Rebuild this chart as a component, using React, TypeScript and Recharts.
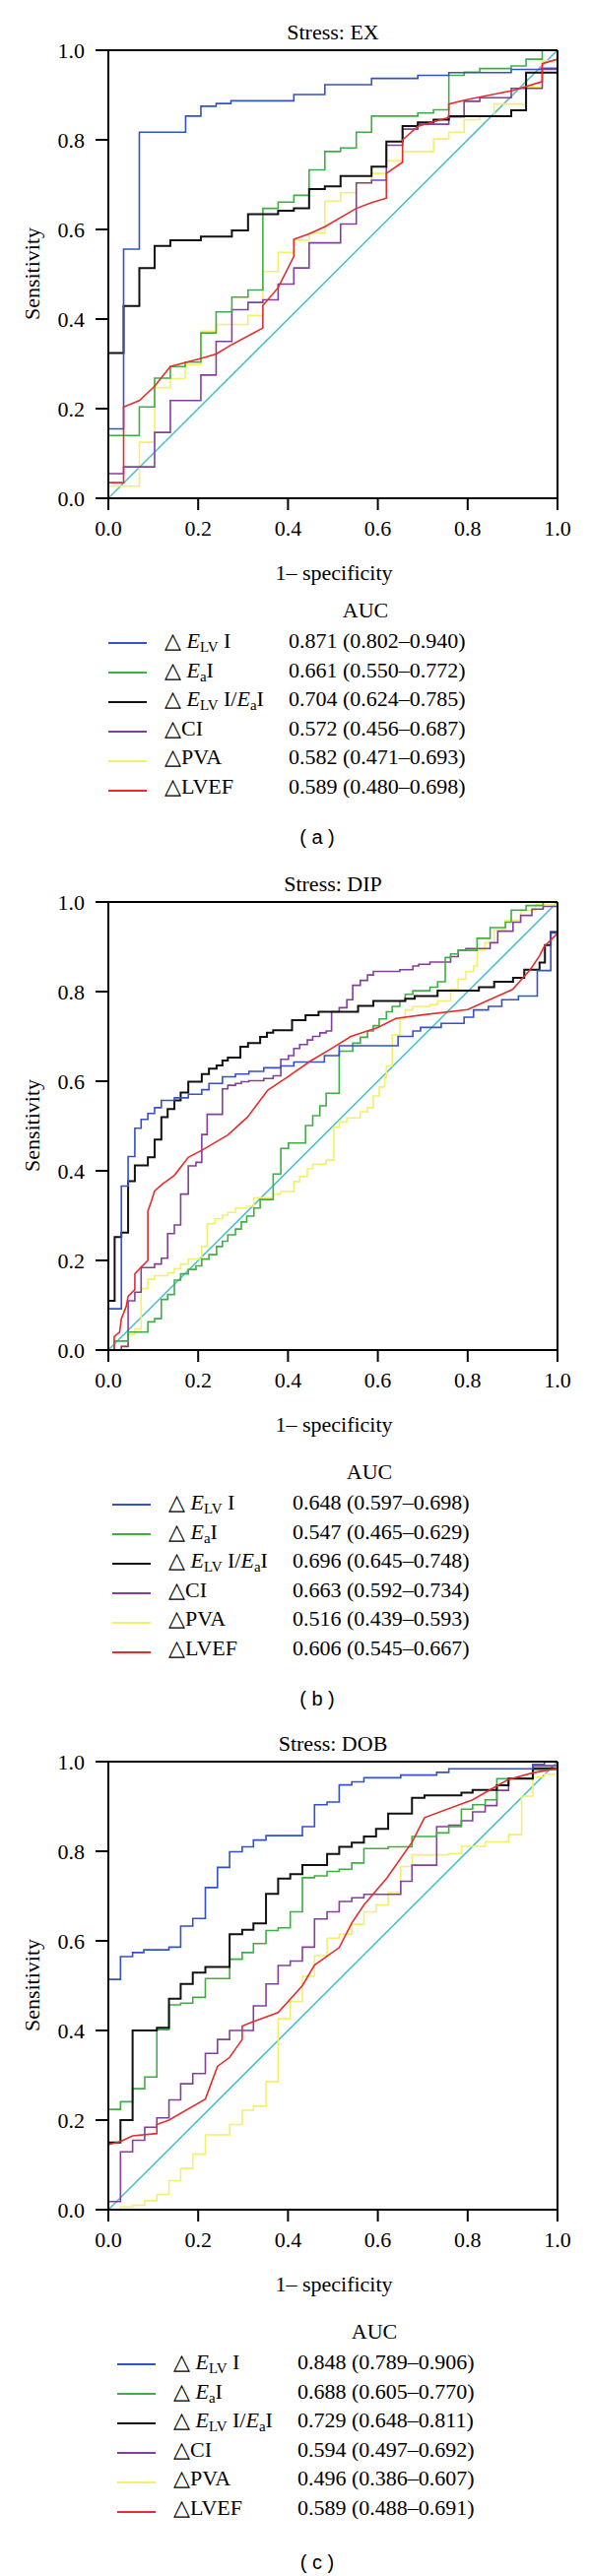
import React from 'react';
import { LineChart, Line, XAxis, YAxis, ReferenceLine } from 'recharts';

type Pt = [number, number];

// ROC curves. Step series: each pair is [1-specificity where the jump happens, sensitivity after it]
// LVEF curves are drawn point to point.

// Stress: EX
const exElvi: Pt[] = [[0, 0], [0, 0.155], [0.034, 0.556], [0.069, 0.817], [0.172, 0.853], [0.206, 0.875], [0.24, 0.881], [0.273, 0.887], [0.413, 0.901], [0.482, 0.923], [0.586, 0.937], [0.689, 0.944], [0.758, 0.95], [0.897, 0.957], [0.964, 0.96], [1, 1]];
const exEai: Pt[] = [[0, 0], [0, 0.14], [0.069, 0.204], [0.103, 0.268], [0.138, 0.294], [0.171, 0.304], [0.206, 0.369], [0.24, 0.416], [0.275, 0.449], [0.311, 0.465], [0.344, 0.647], [0.378, 0.661], [0.413, 0.676], [0.447, 0.733], [0.482, 0.774], [0.517, 0.782], [0.552, 0.817], [0.586, 0.853], [0.689, 0.86], [0.724, 0.867], [0.758, 0.944], [0.792, 0.951], [0.827, 0.959], [0.897, 0.965], [0.93, 0.98], [0.966, 1], [1, 1]];
const exRatio: Pt[] = [[0, 0], [0, 0.324], [0.034, 0.429], [0.069, 0.514], [0.103, 0.563], [0.138, 0.576], [0.206, 0.584], [0.275, 0.598], [0.311, 0.634], [0.378, 0.642], [0.413, 0.647], [0.447, 0.69], [0.482, 0.696], [0.517, 0.719], [0.586, 0.74], [0.619, 0.796], [0.655, 0.831], [0.689, 0.839], [0.724, 0.845], [0.758, 0.853], [0.897, 0.866], [0.93, 0.95], [1, 1]];
const exCi: Pt[] = [[0, 0], [0, 0.055], [0.034, 0.07], [0.103, 0.147], [0.138, 0.218], [0.206, 0.275], [0.24, 0.35], [0.275, 0.421], [0.311, 0.437], [0.344, 0.443], [0.378, 0.478], [0.413, 0.514], [0.447, 0.57], [0.517, 0.612], [0.552, 0.704], [0.586, 0.71], [0.619, 0.788], [0.655, 0.824], [0.689, 0.835], [0.758, 0.851], [0.792, 0.886], [0.827, 0.894], [0.897, 0.915], [0.966, 0.957], [1, 1]];
const exPva: Pt[] = [[0, 0], [0, 0.027], [0.069, 0.125], [0.103, 0.247], [0.138, 0.267], [0.171, 0.298], [0.206, 0.373], [0.24, 0.388], [0.311, 0.408], [0.344, 0.506], [0.378, 0.549], [0.413, 0.576], [0.447, 0.592], [0.482, 0.663], [0.517, 0.682], [0.552, 0.704], [0.586, 0.725], [0.619, 0.753], [0.655, 0.774], [0.724, 0.802], [0.758, 0.817], [0.792, 0.845], [0.827, 0.853], [0.859, 0.88], [0.93, 0.918], [0.966, 0.976], [1, 1]];
const exLvef: Pt[] = [[0, 0], [0, 0.035], [0.034, 0.035], [0.034, 0.204], [0.069, 0.218], [0.103, 0.25], [0.138, 0.294], [0.206, 0.312], [0.24, 0.322], [0.275, 0.343], [0.344, 0.38], [0.344, 0.43], [0.378, 0.47], [0.413, 0.54], [0.413, 0.578], [0.447, 0.59], [0.482, 0.606], [0.552, 0.647], [0.586, 0.66], [0.619, 0.67], [0.619, 0.725], [0.655, 0.75], [0.655, 0.8], [0.689, 0.83], [0.724, 0.84], [0.758, 0.85], [0.758, 0.88], [0.8, 0.89], [0.9, 0.91], [0.966, 0.93], [0.966, 0.97], [1, 0.98], [1, 1]];
const exAuc = ['0.871 (0.802–0.940)', '0.661 (0.550–0.772)', '0.704 (0.624–0.785)', '0.572 (0.456–0.687)', '0.582 (0.471–0.693)', '0.589 (0.480–0.698)'];

// Stress: DIP
const dipElvi: Pt[] = [[0, 0], [0, 0.092], [0.029, 0.366], [0.044, 0.432], [0.059, 0.495], [0.073, 0.515], [0.088, 0.528], [0.103, 0.541], [0.118, 0.557], [0.147, 0.563], [0.178, 0.571], [0.208, 0.581], [0.224, 0.595], [0.254, 0.61], [0.283, 0.616], [0.313, 0.622], [0.346, 0.63], [0.384, 0.634], [0.413, 0.643], [0.481, 0.657], [0.514, 0.679], [0.645, 0.7], [0.678, 0.712], [0.695, 0.72], [0.741, 0.729], [0.792, 0.743], [0.813, 0.759], [0.846, 0.767], [0.876, 0.782], [0.913, 0.79], [0.955, 0.847], [0.985, 0.931], [1, 1]];
const dipEai: Pt[] = [[0, 0], [0.013, 0.02], [0.044, 0.04], [0.088, 0.063], [0.103, 0.07], [0.118, 0.113], [0.132, 0.124], [0.147, 0.156], [0.161, 0.17], [0.178, 0.18], [0.195, 0.188], [0.208, 0.203], [0.224, 0.213], [0.241, 0.231], [0.254, 0.243], [0.266, 0.257], [0.283, 0.27], [0.296, 0.286], [0.308, 0.299], [0.324, 0.317], [0.338, 0.336], [0.367, 0.393], [0.384, 0.45], [0.401, 0.462], [0.439, 0.501], [0.455, 0.523], [0.471, 0.545], [0.485, 0.573], [0.514, 0.667], [0.544, 0.685], [0.561, 0.698], [0.577, 0.712], [0.59, 0.724], [0.603, 0.739], [0.619, 0.755], [0.632, 0.767], [0.649, 0.779], [0.661, 0.794], [0.678, 0.802], [0.716, 0.81], [0.733, 0.822], [0.75, 0.876], [0.762, 0.884], [0.779, 0.892], [0.821, 0.919], [0.85, 0.943], [0.884, 0.955], [0.897, 0.982], [0.93, 0.992], [0.968, 1], [1, 1]];
const dipRatio: Pt[] = [[0, 0], [0, 0.11], [0.014, 0.252], [0.029, 0.262], [0.044, 0.377], [0.059, 0.412], [0.088, 0.43], [0.103, 0.47], [0.118, 0.52], [0.132, 0.538], [0.147, 0.557], [0.161, 0.575], [0.178, 0.599], [0.208, 0.616], [0.224, 0.628], [0.241, 0.635], [0.254, 0.646], [0.266, 0.653], [0.294, 0.677], [0.311, 0.685], [0.338, 0.699], [0.353, 0.708], [0.367, 0.714], [0.409, 0.736], [0.439, 0.747], [0.468, 0.755], [0.556, 0.768], [0.59, 0.779], [0.661, 0.784], [0.682, 0.79], [0.733, 0.802], [0.825, 0.81], [0.859, 0.822], [0.901, 0.831], [0.926, 0.849], [0.96, 0.865], [0.972, 0.904], [0.985, 0.933], [1, 1]];
const dipCi: Pt[] = [[0, 0], [0.029, 0.008], [0.044, 0.11], [0.059, 0.129], [0.073, 0.184], [0.103, 0.192], [0.118, 0.205], [0.132, 0.26], [0.147, 0.279], [0.161, 0.348], [0.178, 0.411], [0.195, 0.419], [0.208, 0.481], [0.22, 0.526], [0.254, 0.583], [0.266, 0.591], [0.283, 0.595], [0.296, 0.599], [0.313, 0.601], [0.346, 0.606], [0.367, 0.612], [0.384, 0.649], [0.401, 0.657], [0.413, 0.673], [0.426, 0.682], [0.443, 0.692], [0.455, 0.7], [0.471, 0.708], [0.485, 0.712], [0.497, 0.755], [0.514, 0.764], [0.531, 0.782], [0.544, 0.814], [0.561, 0.825], [0.577, 0.837], [0.59, 0.845], [0.649, 0.849], [0.678, 0.857], [0.691, 0.861], [0.716, 0.866], [0.762, 0.878], [0.779, 0.892], [0.796, 0.896], [0.85, 0.909], [0.867, 0.935], [0.901, 0.955], [0.918, 0.97], [0.943, 0.984], [0.968, 0.99], [1, 1]];
const dipPva: Pt[] = [[0, 0], [0.029, 0.01], [0.044, 0.035], [0.059, 0.047], [0.073, 0.137], [0.088, 0.158], [0.103, 0.166], [0.132, 0.172], [0.147, 0.182], [0.161, 0.192], [0.178, 0.203], [0.208, 0.231], [0.22, 0.282], [0.237, 0.293], [0.254, 0.301], [0.266, 0.307], [0.283, 0.317], [0.308, 0.321], [0.324, 0.34], [0.367, 0.348], [0.384, 0.354], [0.413, 0.376], [0.426, 0.387], [0.443, 0.405], [0.455, 0.415], [0.485, 0.424], [0.502, 0.497], [0.514, 0.509], [0.531, 0.518], [0.561, 0.532], [0.577, 0.541], [0.59, 0.567], [0.603, 0.587], [0.615, 0.609], [0.619, 0.634], [0.632, 0.704], [0.649, 0.739], [0.661, 0.759], [0.678, 0.767], [0.716, 0.771], [0.733, 0.779], [0.762, 0.806], [0.779, 0.828], [0.796, 0.845], [0.813, 0.857], [0.821, 0.892], [0.838, 0.909], [0.859, 0.939], [0.884, 0.959], [0.918, 0.982], [0.951, 0.994], [1, 1]];
const dipLvef: Pt[] = [[0, 0], [0.013, 0], [0.013, 0.03], [0.025, 0.04], [0.029, 0.07], [0.04, 0.098], [0.044, 0.12], [0.059, 0.135], [0.059, 0.17], [0.073, 0.185], [0.088, 0.2], [0.088, 0.31], [0.095, 0.33], [0.103, 0.355], [0.12, 0.37], [0.147, 0.39], [0.178, 0.43], [0.21, 0.447], [0.266, 0.48], [0.31, 0.52], [0.355, 0.58], [0.4, 0.61], [0.45, 0.645], [0.5, 0.675], [0.54, 0.7], [0.6, 0.72], [0.64, 0.74], [0.7, 0.748], [0.8, 0.76], [0.9, 0.805], [0.94, 0.85], [0.96, 0.88], [0.97, 0.9], [1, 0.93], [1, 1]];
const dipAuc = ['0.648 (0.597–0.698)', '0.547 (0.465–0.629)', '0.696 (0.645–0.748)', '0.663 (0.592–0.734)', '0.516 (0.439–0.593)', '0.606 (0.545–0.667)'];

// Stress: DOB
const dobElvi: Pt[] = [[0, 0], [0, 0.514], [0.027, 0.565], [0.054, 0.574], [0.079, 0.58], [0.135, 0.586], [0.161, 0.633], [0.188, 0.65], [0.216, 0.719], [0.243, 0.764], [0.27, 0.799], [0.298, 0.81], [0.323, 0.825], [0.351, 0.835], [0.432, 0.855], [0.459, 0.904], [0.487, 0.91], [0.514, 0.948], [0.542, 0.955], [0.569, 0.964], [0.651, 0.97], [0.731, 0.976], [0.758, 0.984], [0.945, 0.994], [0.971, 1], [1, 1]];
const dobEai: Pt[] = [[0, 0], [0, 0.224], [0.027, 0.241], [0.054, 0.27], [0.081, 0.296], [0.108, 0.402], [0.135, 0.457], [0.161, 0.461], [0.188, 0.474], [0.216, 0.516], [0.27, 0.559], [0.298, 0.574], [0.323, 0.594], [0.351, 0.623], [0.378, 0.629], [0.405, 0.665], [0.432, 0.741], [0.459, 0.745], [0.487, 0.755], [0.514, 0.76], [0.542, 0.774], [0.569, 0.806], [0.623, 0.81], [0.676, 0.833], [0.731, 0.841], [0.758, 0.855], [0.786, 0.894], [0.811, 0.904], [0.839, 0.915], [0.865, 0.962], [0.945, 0.982], [1, 0.99], [1, 1]];
const dobRatio: Pt[] = [[0, 0], [0, 0.15], [0.027, 0.2], [0.054, 0.4], [0.108, 0.406], [0.135, 0.471], [0.161, 0.504], [0.188, 0.529], [0.216, 0.542], [0.27, 0.615], [0.298, 0.625], [0.323, 0.639], [0.351, 0.705], [0.378, 0.739], [0.405, 0.749], [0.432, 0.769], [0.487, 0.794], [0.514, 0.81], [0.542, 0.819], [0.569, 0.833], [0.596, 0.85], [0.623, 0.884], [0.676, 0.919], [0.704, 0.925], [0.786, 0.931], [0.811, 0.937], [0.865, 0.947], [0.891, 0.962], [0.945, 0.985], [1, 1]];
const dobCi: Pt[] = [[0, 0], [0, 0.018], [0.027, 0.129], [0.054, 0.155], [0.081, 0.184], [0.108, 0.205], [0.135, 0.245], [0.161, 0.281], [0.188, 0.304], [0.216, 0.349], [0.243, 0.38], [0.27, 0.4], [0.323, 0.455], [0.351, 0.504], [0.378, 0.545], [0.405, 0.555], [0.432, 0.586], [0.459, 0.649], [0.487, 0.665], [0.514, 0.688], [0.542, 0.696], [0.569, 0.704], [0.651, 0.733], [0.676, 0.769], [0.731, 0.855], [0.758, 0.858], [0.786, 0.868], [0.811, 0.888], [0.839, 0.902], [0.865, 0.936], [0.891, 0.962], [0.945, 0.991], [1, 1]];
const dobPva: Pt[] = [[0, 0], [0.027, 0.006], [0.054, 0.01], [0.081, 0.02], [0.108, 0.034], [0.135, 0.065], [0.161, 0.092], [0.188, 0.124], [0.216, 0.167], [0.27, 0.19], [0.298, 0.222], [0.323, 0.231], [0.351, 0.286], [0.378, 0.426], [0.405, 0.465], [0.432, 0.521], [0.459, 0.567], [0.487, 0.606], [0.514, 0.615], [0.542, 0.637], [0.569, 0.665], [0.596, 0.68], [0.623, 0.708], [0.651, 0.766], [0.676, 0.792], [0.758, 0.795], [0.786, 0.811], [0.839, 0.821], [0.891, 0.837], [0.92, 0.923], [0.945, 0.966], [0.971, 0.972], [1, 1]];
const dobLvef: Pt[] = [[0, 0], [0, 0.145], [0.027, 0.152], [0.054, 0.165], [0.108, 0.17], [0.108, 0.19], [0.135, 0.2], [0.216, 0.247], [0.243, 0.32], [0.27, 0.34], [0.298, 0.38], [0.298, 0.41], [0.323, 0.42], [0.378, 0.44], [0.432, 0.5], [0.459, 0.546], [0.514, 0.585], [0.542, 0.64], [0.569, 0.68], [0.62, 0.74], [0.676, 0.82], [0.704, 0.875], [0.811, 0.915], [0.89, 0.96], [0.945, 0.975], [1, 0.985], [1, 1]];
const dobAuc = ['0.848 (0.789–0.906)', '0.688 (0.605–0.770)', '0.729 (0.648–0.811)', '0.594 (0.497–0.692)', '0.496 (0.386–0.607)', '0.589 (0.488–0.691)'];

const diagonal: Pt[] = [[0, 0], [1, 1]];
const axisTicks = [0, 0.2, 0.4, 0.6, 0.8, 1.0];

const SERIF = '"Liberation Serif", "Times New Roman", serif';
const colors = ['#3352c9', '#3fae45', '#111111', '#82409c', '#f4f06a', '#e52d2d'];
const refColor = '#45c0c9';

const legendLabels = [
  <>△ <i>E</i><span style={{ fontSize: '0.68em', verticalAlign: '-0.3em' }}>LV</span> I</>,
  <>△ <i>E</i><span style={{ fontSize: '0.68em', verticalAlign: '-0.3em' }}>a</span>I</>,
  <>△ <i>E</i><span style={{ fontSize: '0.68em', verticalAlign: '-0.3em' }}>LV</span> I/<i>E</i><span style={{ fontSize: '0.68em', verticalAlign: '-0.3em' }}>a</span>I</>,
  <>△CI</>,
  <>△PVA</>,
  <>△LVEF</>,
];

const toData = (pts: Pt[]) => pts.map(([x, y]) => ({ x, y }));

interface PanelProps {
  top: number;
  title: string;
  curves: Pt[][]; // order: ElvI, EaI, ratio, CI, PVA, LVEF
  auc: string[];
  letter: string;
  dx: number;
  dy: number;
  captionY: number;
}

const Panel: React.FC<PanelProps> = ({ top, title, curves, auc, letter, dx, dy, captionY }) => {
  // draw order: yellow, purple, green, black, blue, red
  const order = [4, 3, 1, 2, 0];
  return (
    <div style={{ position: 'absolute', left: 0, top, width: 600, height: 880 }}>
      <div style={{ position: 'absolute', left: 338, top: 33, transform: 'translate(-50%, -50%)', fontFamily: SERIF, fontSize: 22, whiteSpace: 'nowrap' }}>
        {title}
      </div>
      <LineChart width={600} height={600} margin={{ top: 51, right: 34, bottom: 0, left: 50 }}>
        <XAxis
          dataKey="x"
          type="number"
          domain={[0, 1]}
          ticks={axisTicks}
          tickFormatter={(v: number) => v.toFixed(1)}
          height={94}
          tickSize={12}
          tickMargin={10}
          axisLine={{ stroke: '#000', strokeWidth: 2 }}
          tickLine={{ stroke: '#000', strokeWidth: 2 }}
          tick={{ fill: '#000', fontSize: 22, fontFamily: SERIF }}
        />
        <YAxis
          dataKey="y"
          type="number"
          domain={[0, 1]}
          ticks={axisTicks}
          tickFormatter={(v: number) => v.toFixed(1)}
          width={60}
          tickSize={13}
          tickMargin={11}
          axisLine={{ stroke: '#000', strokeWidth: 2 }}
          tickLine={{ stroke: '#000', strokeWidth: 2 }}
          tick={{ fill: '#000', fontSize: 22, fontFamily: SERIF }}
        />
        <Line data={toData(diagonal)} dataKey="y" type="linear" stroke={refColor} strokeWidth={1.5} dot={false} activeDot={false} isAnimationActive={false} />
        {order.map((i) => (
          <Line
            key={i}
            data={toData(curves[i])}
            dataKey="y"
            type="stepAfter"
            stroke={colors[i]}
            strokeWidth={i === 2 ? 2 : 1.6}
            dot={false}
            activeDot={false}
            isAnimationActive={false}
          />
        ))}
        <Line data={toData(curves[5])} dataKey="y" type="linear" stroke={colors[5]} strokeWidth={1.6} dot={false} activeDot={false} isAnimationActive={false} />
        <ReferenceLine y={1} stroke="#000" strokeWidth={2} />
        <ReferenceLine x={1} stroke="#000" strokeWidth={2} />
      </LineChart>
      <div style={{ position: 'absolute', left: 33, top: 278, transform: 'translate(-50%, -50%) rotate(-90deg)', fontFamily: SERIF, fontSize: 22, whiteSpace: 'nowrap' }}>
        Sensitivity
      </div>
      <div style={{ position: 'absolute', left: 339, top: 582, transform: 'translate(-50%, -50%)', fontFamily: SERIF, fontSize: 22, whiteSpace: 'nowrap' }}>
        1– specificity
      </div>
      <div style={{ position: 'absolute', left: 371 + dx, top: 620 + dy, transform: 'translate(-50%, -50%)', fontFamily: SERIF, fontSize: 22, whiteSpace: 'nowrap' }}>
        AUC
      </div>
      {legendLabels.map((label, i) => (
        <React.Fragment key={i}>
          <div style={{ position: 'absolute', left: 110 + dx, top: 652 + dy + i * 30, width: 39, height: 2, background: colors[i] }} />
          <div style={{ position: 'absolute', left: 167 + dx, top: 639 + dy + i * 29.5, height: 24, lineHeight: '24px', fontFamily: SERIF, fontSize: 22, whiteSpace: 'nowrap' }}>
            {label}
          </div>
          <div style={{ position: 'absolute', left: 293 + dx, top: 639 + dy + i * 29.5, height: 24, lineHeight: '24px', fontFamily: SERIF, fontSize: 22, whiteSpace: 'nowrap' }}>
            {auc[i]}
          </div>
        </React.Fragment>
      ))}
      <div style={{ position: 'absolute', left: 322, top: captionY, transform: 'translate(-50%, -50%)', fontFamily: '"Liberation Sans", Arial, sans-serif', fontSize: 20, whiteSpace: 'pre' }}>
        {`( ${letter} )`}
      </div>
    </div>
  );
};

const App: React.FC = () => (
  <div style={{ position: 'absolute', left: 0, top: 0, width: 600, height: 2616, background: '#fff', color: '#000' }}>
    <Panel top={0} title="Stress: EX" curves={[exElvi, exEai, exRatio, exCi, exPva, exLvef]} auc={exAuc} letter="a" dx={0} dy={0} captionY={850} />
    <Panel top={865} title="Stress: DIP" curves={[dipElvi, dipEai, dipRatio, dipCi, dipPva, dipLvef]} auc={dipAuc} letter="b" dx={4} dy={10} captionY={860} />
    <Panel top={1738} title="Stress: DOB" curves={[dobElvi, dobEai, dobRatio, dobCi, dobPva, dobLvef]} auc={dobAuc} letter="c" dx={9} dy={10} captionY={864} />
  </div>
);

export default App;
